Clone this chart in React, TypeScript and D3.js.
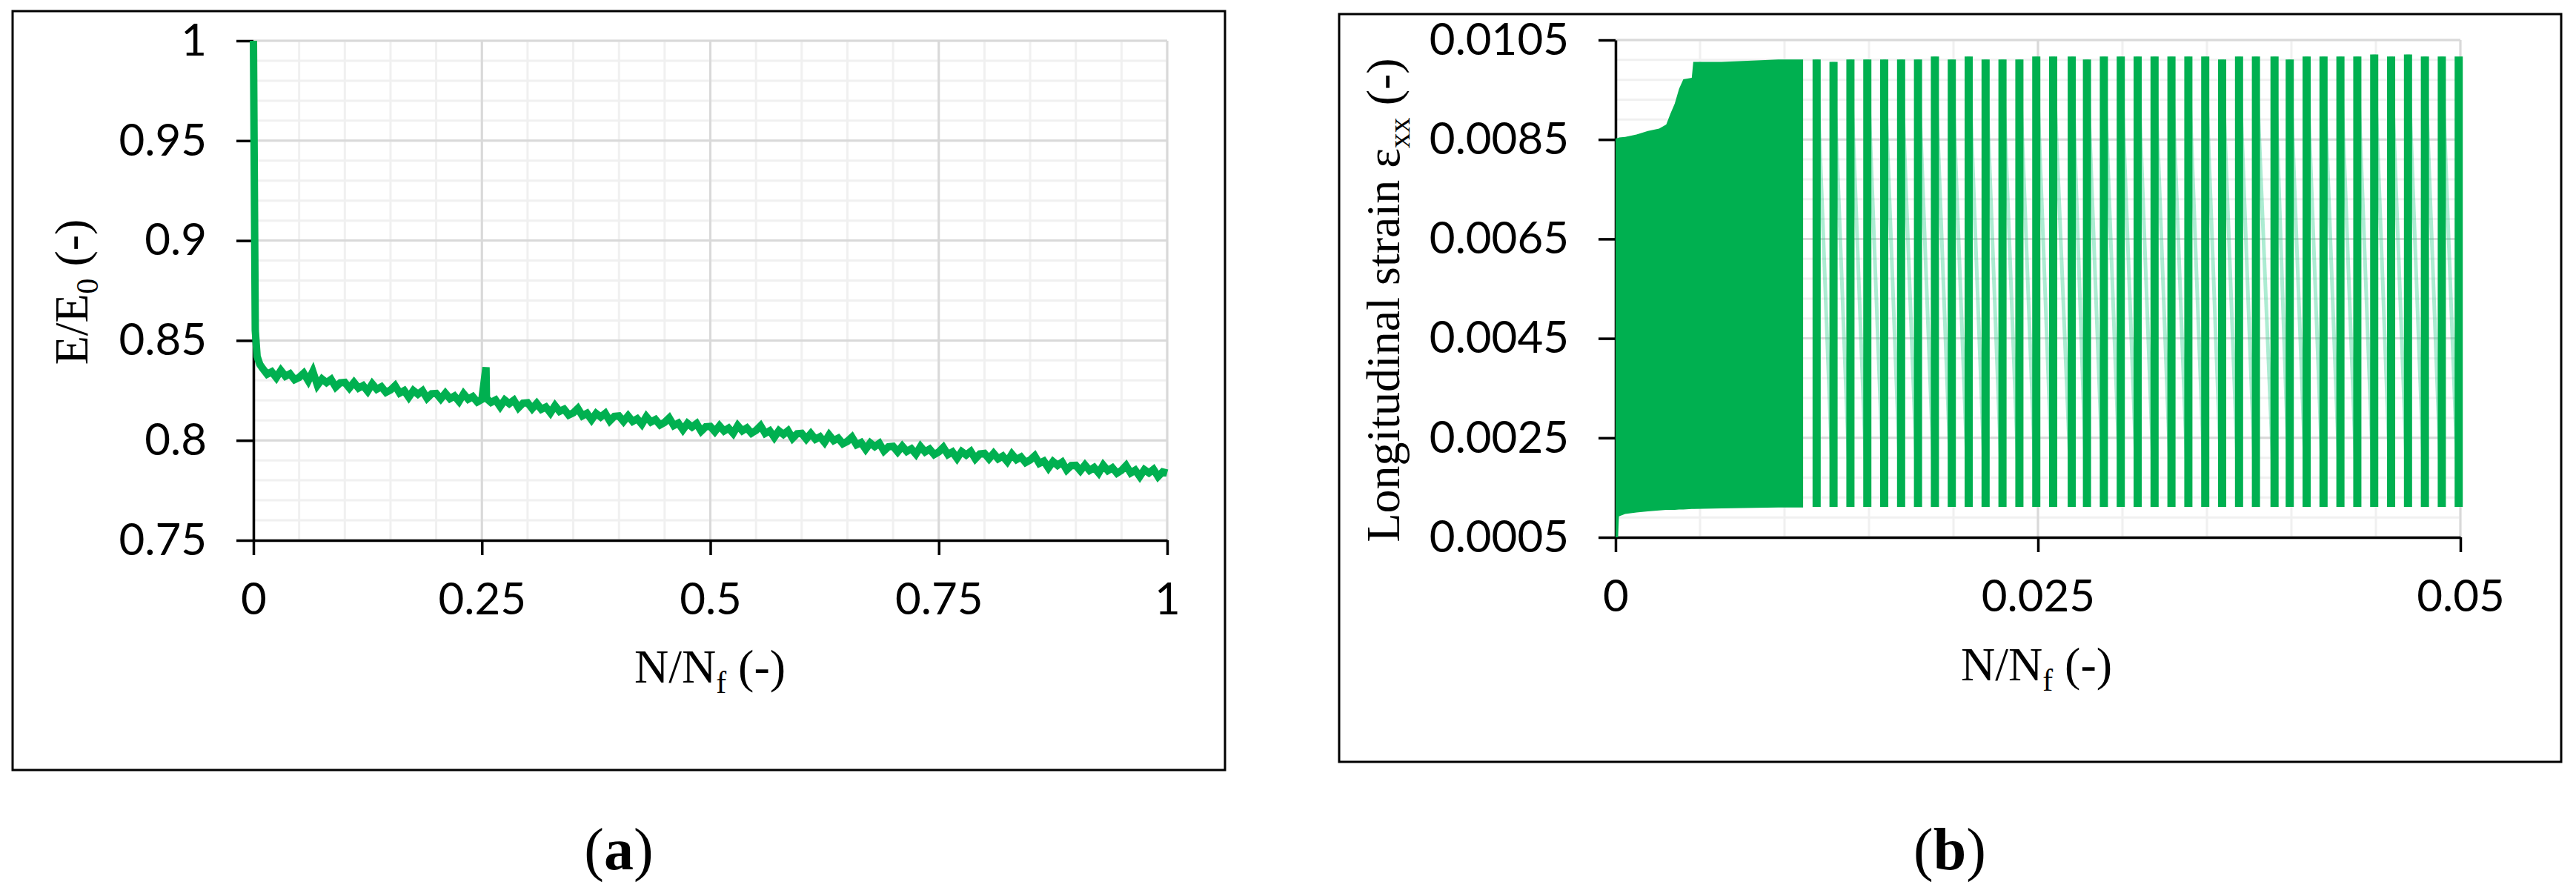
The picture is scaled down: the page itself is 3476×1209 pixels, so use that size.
import React, { useEffect, useRef } from 'react';
import * as d3 from 'd3';

// ---- (a) modulus degradation, E/E0 against N/Nf ----
const modulusPoints: [number, number][] = [
  [0, 1.0], [0.002, 0.855], [0.004, 0.842], [0.007, 0.838],
  [0.01, 0.836], [0.015, 0.8331], [0.02, 0.8343], [0.025, 0.8314], [0.03, 0.835],
  [0.035, 0.8321], [0.04, 0.8333], [0.045, 0.8304], [0.05, 0.8315], [0.055, 0.8336],
  [0.06, 0.8298], [0.065, 0.8345], [0.07, 0.8276], [0.075, 0.8307], [0.08, 0.8289],
  [0.085, 0.8305], [0.09, 0.8267], [0.095, 0.8288], [0.1, 0.829], [0.105, 0.8262],
  [0.11, 0.829], [0.115, 0.8262], [0.12, 0.8274], [0.125, 0.8246], [0.13, 0.8283],
  [0.135, 0.8256], [0.14, 0.8268], [0.145, 0.824], [0.15, 0.8252], [0.155, 0.8274],
  [0.16, 0.8237], [0.165, 0.8249], [0.17, 0.8216], [0.175, 0.8249], [0.18, 0.8231],
  [0.185, 0.8248], [0.19, 0.8211], [0.195, 0.8233], [0.2, 0.8235], [0.205, 0.8208],
  [0.21, 0.8236], [0.215, 0.8209], [0.22, 0.8222], [0.225, 0.8195], [0.23, 0.8233],
  [0.235, 0.8206], [0.24, 0.8219], [0.245, 0.8192], [0.25, 0.8205], [0.2545, 0.8366],
  [0.255, 0.821], [0.26, 0.819], [0.265, 0.8202], [0.27, 0.8169], [0.275, 0.8202],
  [0.28, 0.8184], [0.285, 0.8201], [0.29, 0.8163], [0.295, 0.8186], [0.3, 0.8188],
  [0.305, 0.8159], [0.31, 0.8185], [0.315, 0.8156], [0.32, 0.8167], [0.325, 0.8138],
  [0.33, 0.8174], [0.335, 0.8145], [0.34, 0.8156], [0.345, 0.8127], [0.35, 0.8138],
  [0.355, 0.816], [0.36, 0.8123], [0.365, 0.8135], [0.37, 0.8103], [0.375, 0.8135],
  [0.38, 0.8117], [0.385, 0.8135], [0.39, 0.8097], [0.395, 0.812], [0.4, 0.8122],
  [0.405, 0.8095], [0.41, 0.8123], [0.415, 0.8095], [0.42, 0.8108], [0.425, 0.8081],
  [0.43, 0.8119], [0.435, 0.8092], [0.44, 0.8104], [0.445, 0.8077], [0.45, 0.809],
  [0.455, 0.8112], [0.46, 0.8074], [0.465, 0.8086], [0.47, 0.8053], [0.475, 0.8085],
  [0.48, 0.8067], [0.485, 0.8084], [0.49, 0.8046], [0.495, 0.8068], [0.5, 0.807],
  [0.505, 0.8044], [0.51, 0.8073], [0.515, 0.8047], [0.52, 0.8061], [0.525, 0.8035],
  [0.53, 0.8074], [0.535, 0.8048], [0.54, 0.8062], [0.545, 0.8036], [0.55, 0.805],
  [0.555, 0.8073], [0.56, 0.8035], [0.565, 0.8048], [0.57, 0.8015], [0.575, 0.8048],
  [0.58, 0.803], [0.585, 0.8048], [0.59, 0.801], [0.595, 0.8033], [0.6, 0.8035],
  [0.605, 0.8007], [0.61, 0.8034], [0.615, 0.8006], [0.62, 0.8018], [0.625, 0.799],
  [0.63, 0.8027], [0.635, 0.7999], [0.64, 0.8011], [0.645, 0.7983], [0.65, 0.7995],
  [0.655, 0.8016], [0.66, 0.7978], [0.665, 0.7989], [0.67, 0.7956], [0.675, 0.7987],
  [0.68, 0.7969], [0.685, 0.7985], [0.69, 0.7947], [0.695, 0.7968], [0.7, 0.797],
  [0.705, 0.7943], [0.71, 0.7971], [0.715, 0.7945], [0.72, 0.7958], [0.725, 0.7931],
  [0.73, 0.7969], [0.735, 0.7942], [0.74, 0.7956], [0.745, 0.7929], [0.75, 0.7942],
  [0.755, 0.7965], [0.76, 0.7929], [0.765, 0.7942], [0.77, 0.791], [0.775, 0.7944],
  [0.78, 0.7927], [0.785, 0.7945], [0.79, 0.7908], [0.795, 0.7932], [0.8, 0.7935],
  [0.805, 0.7908], [0.81, 0.7935], [0.815, 0.7908], [0.82, 0.7921], [0.825, 0.7894],
  [0.83, 0.7931], [0.835, 0.7904], [0.84, 0.7917], [0.845, 0.7889], [0.85, 0.7902],
  [0.855, 0.7923], [0.86, 0.7885], [0.865, 0.7896], [0.87, 0.7862], [0.875, 0.7894],
  [0.88, 0.7875], [0.885, 0.7891], [0.89, 0.7852], [0.895, 0.7874], [0.9, 0.7875],
  [0.905, 0.7848], [0.91, 0.7877], [0.915, 0.785], [0.92, 0.7864], [0.925, 0.7837],
  [0.93, 0.7876], [0.935, 0.7849], [0.94, 0.7863], [0.945, 0.7836], [0.95, 0.785],
  [0.955, 0.7874], [0.96, 0.7837], [0.965, 0.7851], [0.97, 0.7819], [0.975, 0.7853],
  [0.98, 0.7837], [0.985, 0.7855], [0.99, 0.7819], [0.995, 0.7842], [1.0, 0.7836],
];
const modulusYTicks = [0.75, 0.8, 0.85, 0.9, 0.95, 1];
const modulusXTicks = [0, 0.25, 0.5, 0.75, 1];

// ---- (b) longitudinal strain history ----
const strainYTicks = [0.0005, 0.0025, 0.0045, 0.0065, 0.0085, 0.0105];
const strainXTicks = [0, 0.025, 0.05];

// envelope of the densely recorded first part
const denseX = [0, 0.00015, 0.0002, 0.00057, 0.00124, 0.00191, 0.00258, 0.003, 0.00325, 0.0035, 0.00376, 0.00401, 0.00451, 0.0046, 0.00627, 0.00963, 0.0111];
const denseUpper = [0.00852, 0.00853, 0.00854, 0.00855, 0.0086, 0.00867, 0.00872, 0.0088, 0.00902, 0.00922, 0.00952, 0.00971, 0.00974, 0.01006, 0.01006, 0.01011, 0.01011];
const denseLower = [0.0005, 0.0005, 0.00092, 0.00097, 0.001, 0.00102, 0.00104, 0.00105, 0.00105, 0.00105, 0.00106, 0.00106, 0.00107, 0.00107, 0.00108, 0.0011, 0.0011];

// later, sparsely recorded cycles
const cyclePeakX = [
  0.0119, 0.0129, 0.0139, 0.0149, 0.0159, 0.0169, 0.0179, 0.0189, 0.0199, 0.0209,
  0.0219, 0.0229, 0.0239, 0.0249, 0.0259, 0.027, 0.0279, 0.0289, 0.0299, 0.0309,
  0.0319, 0.0329, 0.0339, 0.0349, 0.0359, 0.0369, 0.0379, 0.039, 0.0399, 0.0409,
  0.0419, 0.0429, 0.0439, 0.0449, 0.0459, 0.0469, 0.0479, 0.0489, 0.0499,
];
const cyclePeak = [
  0.01011, 0.01006, 0.01011, 0.01011, 0.01011, 0.01011, 0.01011, 0.01017, 0.01011, 0.01017,
  0.01011, 0.01011, 0.01011, 0.01017, 0.01017, 0.01017, 0.01011, 0.01017, 0.01017, 0.01017,
  0.01017, 0.01017, 0.01017, 0.01017, 0.01011, 0.01017, 0.01017, 0.01017, 0.01011, 0.01017,
  0.01017, 0.01017, 0.01017, 0.01021, 0.01017, 0.01021, 0.01017, 0.01017, 0.01017,
];
const cycleValley = 0.00111;

const GREEN = '#00b050';
const TICK_FONT = "Lato, 'Open Sans', sans-serif";
const SERIF = "'Liberation Serif', 'Times New Roman', serif";

function addTitle(g, x, y, rotate, parts, size) {
  const t = g.append('text')
    .attr('transform', `translate(${x},${y})${rotate ? ' rotate(-90)' : ''}`)
    .attr('text-anchor', 'middle')
    .attr('font-family', SERIF)
    .attr('font-size', size)
    .attr('fill', '#000');
  parts.forEach(p => {
    const s = t.append('tspan').text(p.text);
    if (p.sub) s.attr('font-size', size * 0.65).attr('dy', size * 0.22);
    if (p.back) s.attr('dy', -size * 0.22);
  });
}

function drawPanel(svg, cfg) {
  const { frame, xScale, yScale, xMinor, xMajor, yMinor, yMajor, xTicks, yTicks } = cfg;
  const g = svg.append('g');

  g.append('rect')
    .attr('x', frame.x).attr('y', frame.y)
    .attr('width', frame.w).attr('height', frame.h)
    .attr('fill', '#fff').attr('stroke', '#000').attr('stroke-width', 3);

  const [x0, x1] = xScale.range();
  const [y0, y1] = yScale.range();

  const grid = (vals, vertical, color) => {
    g.append('g').selectAll('line').data(vals).join('line')
      .attr('x1', d => vertical ? xScale(d) : x0)
      .attr('x2', d => vertical ? xScale(d) : x1)
      .attr('y1', d => vertical ? y0 : yScale(d))
      .attr('y2', d => vertical ? y1 : yScale(d))
      .attr('stroke', color)
      .attr('stroke-width', 3);
  };
  grid(yMinor, false, '#f0f0f0');
  grid(xMinor, true, '#f0f0f0');
  grid(yMajor, false, '#d9d9d9');
  grid(xMajor, true, '#d9d9d9');

  const yAxis = g.append('g')
    .attr('transform', `translate(${x0},0)`)
    .call(d3.axisLeft(yScale).tickValues(yTicks).tickSize(23).tickSizeOuter(0).tickPadding(40).tickFormat(d => String(d)));
  const xAxis = g.append('g')
    .attr('transform', `translate(0,${y0})`)
    .call(d3.axisBottom(xScale).tickValues(xTicks).tickSize(20).tickSizeOuter(0).tickPadding(37).tickFormat(d => String(d)));

  [yAxis, xAxis].forEach(a => {
    a.select('.domain').attr('stroke', '#000').attr('stroke-width', 3.5);
    a.selectAll('.tick line').attr('stroke', '#000').attr('stroke-width', 3.5);
    a.selectAll('.tick text')
      .attr('font-family', TICK_FONT)
      .attr('font-size', 60)
      .attr('fill', '#000');
  });

  const plot = g.append('g');
  return { g, plot };
}

export default function App() {
  const svgRef = useRef(null);

  useEffect(() => {
    const svg = d3.select(svgRef.current);
    svg.selectAll('*').remove();

    // ---------- panel (a) ----------
    const xa = d3.scaleLinear().domain([0, 1]).range([342, 1575]);
    const ya = d3.scaleLinear().domain([0.75, 1]).range([729, 55]);
    const pa = drawPanel(svg, {
      frame: { x: 17, y: 15, w: 1636, h: 1024 },
      xScale: xa, yScale: ya,
      xMinor: d3.range(0, 21).map(i => i * 0.05),
      xMajor: [0.25, 0.5, 0.75, 1],
      yMinor: d3.range(0, 26).map(i => 0.75 + i * 0.01),
      yMajor: [0.8, 0.85, 0.9, 0.95, 1],
      xTicks: modulusXTicks, yTicks: modulusYTicks,
    });

    pa.plot.append('path')
      .datum(modulusPoints)
      .attr('fill', 'none')
      .attr('stroke', GREEN)
      .attr('stroke-width', 10)
      .attr('stroke-linejoin', 'miter')
      .attr('d', d3.line().x(d => xa(d[0])).y(d => ya(d[1])));

    addTitle(pa.g, 118, 394, true, [
      { text: 'E/E' }, { text: '0', sub: true }, { text: ' (-)', back: true },
    ], 64);
    addTitle(pa.g, 958, 921, false, [
      { text: 'N/N' }, { text: 'f', sub: true }, { text: ' (-)', back: true },
    ], 64);

    // ---------- panel (b) ----------
    const xb = d3.scaleLinear().domain([0, 0.05]).range([2180, 3320]);
    const yb = d3.scaleLinear().domain([0.0005, 0.0105]).range([725, 54]);
    const pb = drawPanel(svg, {
      frame: { x: 1807, y: 19, w: 1649, h: 1009 },
      xScale: xb, yScale: yb,
      xMinor: d3.range(0, 11).map(i => i * 0.005),
      xMajor: [0.025, 0.05],
      yMinor: d3.range(0, 26).map(i => 0.0005 + i * 0.0004),
      yMajor: [0.0025, 0.0045, 0.0065, 0.0085, 0.0105],
      xTicks: strainXTicks, yTicks: strainYTicks,
    });

    const dense = denseX.map((x, i) => ({ x, lo: denseLower[i], hi: denseUpper[i] }));
    pb.plot.append('path')
      .datum(dense)
      .attr('fill', GREEN)
      .attr('d', d3.area().x(d => xb(d.x)).y0(d => yb(d.lo)).y1(d => yb(d.hi)));

    const line = d3.line().x(d => xb(d[0])).y(d => yb(d[1]));

    // faint descending strokes between the recorded cycles
    const fades = cyclePeakX.slice(0, -1).map((x, i) => [[x, cyclePeak[i]], [cyclePeakX[i + 1], cycleValley]]);
    pb.plot.append('g').selectAll('path').data(fades).join('path')
      .attr('fill', 'none')
      .attr('stroke', '#2fcf8f')
      .attr('stroke-opacity', 0.4)
      .attr('stroke-width', 5)
      .attr('d', line);

    const cycles = cyclePeakX.map((x, i) => [[x, cycleValley], [x, cyclePeak[i]]]);
    pb.plot.append('g').selectAll('path').data(cycles).join('path')
      .attr('fill', 'none')
      .attr('stroke', GREEN)
      .attr('stroke-width', 11)
      .attr('d', line);

    addTitle(pb.g, 1888, 405, true, [
      { text: 'Longitudinal strain ε' }, { text: 'xx', sub: true }, { text: ' (-)', back: true },
    ], 64);
    addTitle(pb.g, 2748, 918, false, [
      { text: 'N/N' }, { text: 'f', sub: true }, { text: ' (-)', back: true },
    ], 64);

    // panel captions
    [['a', 835], ['b', 2631]].forEach(([letter, cx]) => {
      const t = svg.append('text')
        .attr('x', cx).attr('y', 1173)
        .attr('text-anchor', 'middle')
        .attr('font-family', SERIF)
        .attr('font-size', 80)
        .attr('fill', '#000');
      t.append('tspan').text('(');
      t.append('tspan').attr('font-weight', 'bold').text(letter);
      t.append('tspan').text(')');
    });
  }, []);

  return (
    <div style={{ position: 'absolute', left: 0, top: 0 }}>
      <svg ref={svgRef} width={3476} height={1209} style={{ display: 'block', background: '#fff' }} />
    </div>
  );
}
